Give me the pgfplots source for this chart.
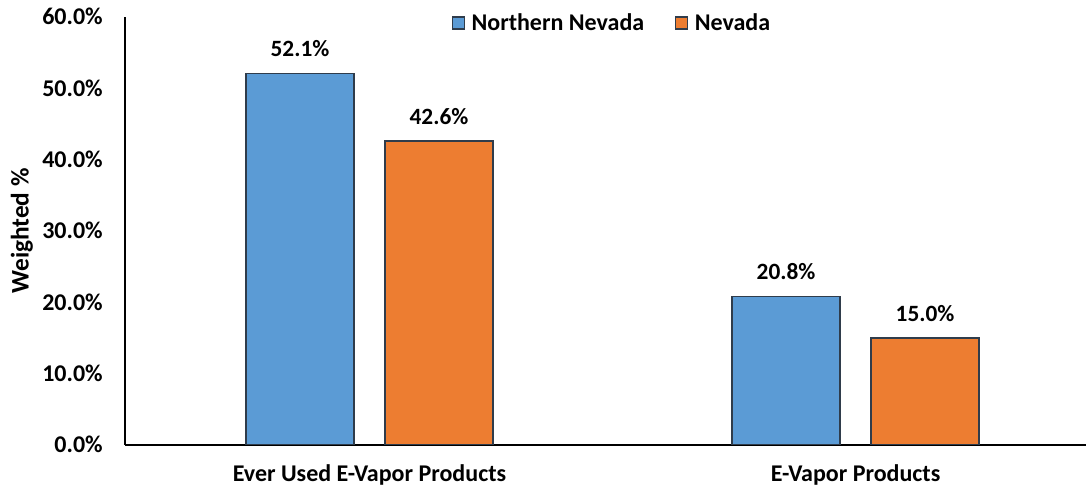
\documentclass[border=0pt]{standalone}
\usepackage{fontspec}
\setmainfont{Carlito}
\usepackage{pgfplots}
\pgfplotsset{compat=1.18}
\definecolor{nblue}{HTML}{5B9BD5}
\definecolor{norange}{HTML}{ED7D31}
\definecolor{edgec}{HTML}{2F3C4B}
\begin{document}
\begin{tikzpicture}
\begin{axis}[
  scale only axis, width=720.75pt, height=321pt,
  xmin=-0.503, xmax=1.474, ymin=0, ymax=60,
  ybar=23.25pt, bar width=81pt,
  axis x line=bottom, axis y line=left,
  axis line style={-, line width=1.1pt, black},
  xtick={0,1}, xticklabels={Ever Used E-Vapor Products, E-Vapor Products},
  ytick={0,10,20,30,40,50,60},
  major tick length=0pt,
  /pgf/number format/assume math mode=true,
  yticklabel={\pgfmathprintnumber[fixed,fixed zerofill,precision=1]{\tick}\%},
  tick label style={inner sep=0pt},
  yticklabel style={font=\bfseries\fontsize{18}{20}\selectfont, anchor=base east, xshift=-16.5pt, yshift=-6pt},
  xticklabel style={font=\bfseries\fontsize{18}{20}\selectfont, anchor=base, yshift=-27.75pt},
  ylabel={Weighted \%},
  ylabel style={font=\bfseries\fontsize{19}{21}\selectfont, at={(axis description cs:-0.1072,0.5)}, anchor=center},
  nodes near coords={\pgfmathprintnumber[fixed,fixed zerofill,precision=1]{\pgfplotspointmeta}\%},
  nodes near coords style={font=\bfseries\fontsize{17.5}{19}\selectfont, anchor=base, inner sep=0pt, yshift=12.5pt, text=black},
  legend style={at={(axis description cs:0.507,0.986)}, anchor=center, draw=none, fill=none,
    legend columns=2, font=\bfseries\fontsize{18}{20}\selectfont,
    /tikz/every even column/.append style={column sep=21pt},
    legend cell align=left},
  legend image code/.code={\draw[#1, draw=edgec, line width=0.8pt] (0pt,-4.5pt) rectangle (9pt,4.5pt); \path (12pt,0pt);},
]
\addplot[fill=nblue, draw=edgec, line width=1.1pt] coordinates {(0,52.1) (1,20.8)};
\addplot[fill=norange, draw=edgec, line width=1.1pt] coordinates {(0,42.6) (1,15.0)};
\legend{Northern Nevada, Nevada}
\end{axis}
\pgfresetboundingbox
\useasboundingbox (-93.75pt,-32.25pt) rectangle (720.75pt,333.75pt);
\end{tikzpicture}
\end{document}
